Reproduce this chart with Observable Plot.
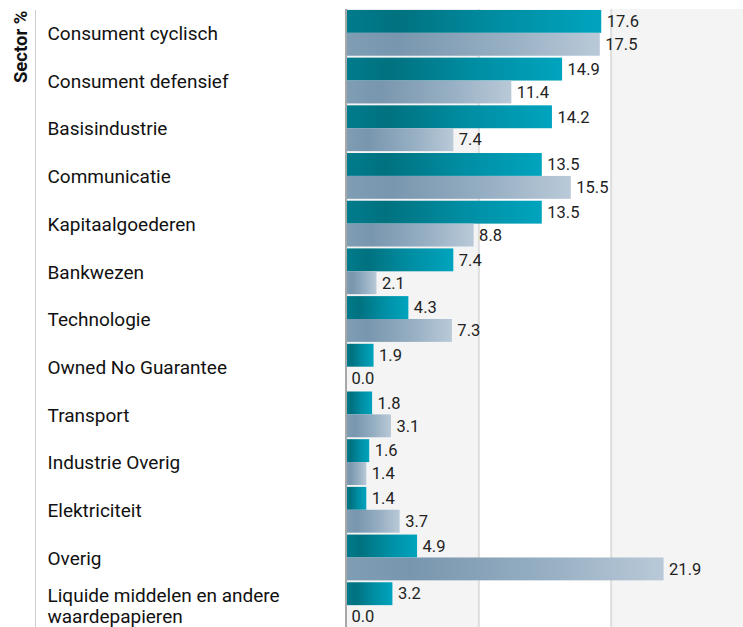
<!DOCTYPE html>
<html>
<head>
<meta charset="utf-8">
<script src="https://cdn.jsdelivr.net/npm/d3@7"></script>
<script src="https://cdn.jsdelivr.net/npm/@observablehq/plot@0.6"></script>
<style>
  html, body { margin: 0; padding: 0; background: #fff; overflow: hidden; }
  #wrap { position: relative; width: 743px; height: 627px; }
  #leftline { position: absolute; left: 35px; top: 10px; width: 1px; height: 620px; background: #cfcfcf; }
  svg text { font-family: Roboto, "Noto Sans", sans-serif; }
</style>
</head>
<body>
<div id="wrap"><div id="leftline"></div></div>
<script>
const categories = [
  "Consument cyclisch",
  "Consument defensief",
  "Basisindustrie",
  "Communicatie",
  "Kapitaalgoederen",
  "Bankwezen",
  "Technologie",
  "Owned No Guarantee",
  "Transport",
  "Industrie Overig",
  "Elektriciteit",
  "Overig",
  "Liquide middelen en andere waardepapieren"
];
const fundValues      = [17.6, 14.9, 14.2, 13.5, 13.5, 7.4, 4.3, 1.9, 1.8, 1.6, 1.4, 4.9, 3.2];
const benchmarkValues = [17.5, 11.4, 7.4, 15.5, 8.8, 2.1, 7.3, 0.0, 3.1, 1.4, 3.7, 21.9, 0.0];
const axisTitle = "Sector %";
const xMax = 27.375;
const bandEdges = [0, 9.125, 18.25, 27.375];

const data = categories.map((c, i) => ({cat: c, fund: fundValues[i], bench: benchmarkValues[i]}));
const shaded = [{x1: bandEdges[0], x2: bandEdges[1]}, {x1: bandEdges[2], x2: bandEdges[3]}];

const W = 743, H = 629, mL = 346, mT = 9;
const pi = 0.04, po = 0.02;
const step = (H - mT) / (categories.length - pi + 2 * po);
const bw = step * (1 - pi);
const half = bw / 2;

const chart = Plot.plot({
  width: W,
  height: H,
  marginLeft: mL,
  marginRight: 0,
  marginTop: mT,
  marginBottom: 0,
  style: {fontFamily: "Roboto, sans-serif", overflow: "visible"},
  x: {domain: [0, xMax], axis: null},
  y: {domain: categories, axis: null, paddingInner: pi, paddingOuter: po, round: false},
  marks: [
    Plot.rectX(shaded, {x1: "x1", x2: "x2", fill: "#f4f4f4"}),
    Plot.ruleX(bandEdges.slice(1, 3), {stroke: "#dedede", strokeWidth: 2}),
    Plot.barX(data, {y: "cat", x: "fund", insetBottom: half, fill: "url(#gradFund)"}),
    Plot.barX(data, {y: "cat", x: "bench", insetTop: half, fill: "url(#gradBench)"}),
    Plot.ruleX([0], {stroke: "#a8a8a8", strokeWidth: 2, dx: -0.5}),
    Plot.text(data, {y: "cat", x: "fund", text: d => d.fund.toFixed(1), dy: -half / 2, dx: 5, textAnchor: "start", fontSize: 16.5, fill: "#222"}),
    Plot.text(data, {y: "cat", x: "bench", text: d => d.bench.toFixed(1), dy: half / 2, dx: 5, textAnchor: "start", fontSize: 16.5, fill: "#222"}),
    Plot.text(data, {y: "cat", text: "cat", frameAnchor: "left", dx: -(mL - 47), textAnchor: "start", lineWidth: 13.5, fontSize: 19, fill: "#111", lineHeight: 1.1}),
    Plot.text([axisTitle], {frameAnchor: "top-left", text: d => d, rotate: -90, textAnchor: "end", dx: -(mL - 13), dy: 1, fontSize: 18.5, fontWeight: "bold", fill: "#111"})
  ]
});

// gradient definitions used by the bar fills
const ns = "http://www.w3.org/2000/svg";
const defs = document.createElementNS(ns, "defs");
function grad(id, stops) {
  const g = document.createElementNS(ns, "linearGradient");
  g.setAttribute("id", id);
  g.setAttribute("x1", "0"); g.setAttribute("x2", "1"); g.setAttribute("y1", "0"); g.setAttribute("y2", "0");
  for (const [o, c] of stops) {
    const s = document.createElementNS(ns, "stop");
    s.setAttribute("offset", o);
    s.setAttribute("stop-color", c);
    g.appendChild(s);
  }
  defs.appendChild(g);
}
grad("gradFund", [[0, "#007c8d"], [0.2, "#00717f"], [0.6, "#008ea3"], [1, "#00a4be"]]);
grad("gradBench", [[0, "#7f9db3"], [0.2, "#7896ae"], [0.6, "#94adc1"], [1, "#b9c9d8"]]);
chart.insertBefore(defs, chart.firstChild);

document.getElementById("wrap").appendChild(chart);
</script>
</body>
</html>
